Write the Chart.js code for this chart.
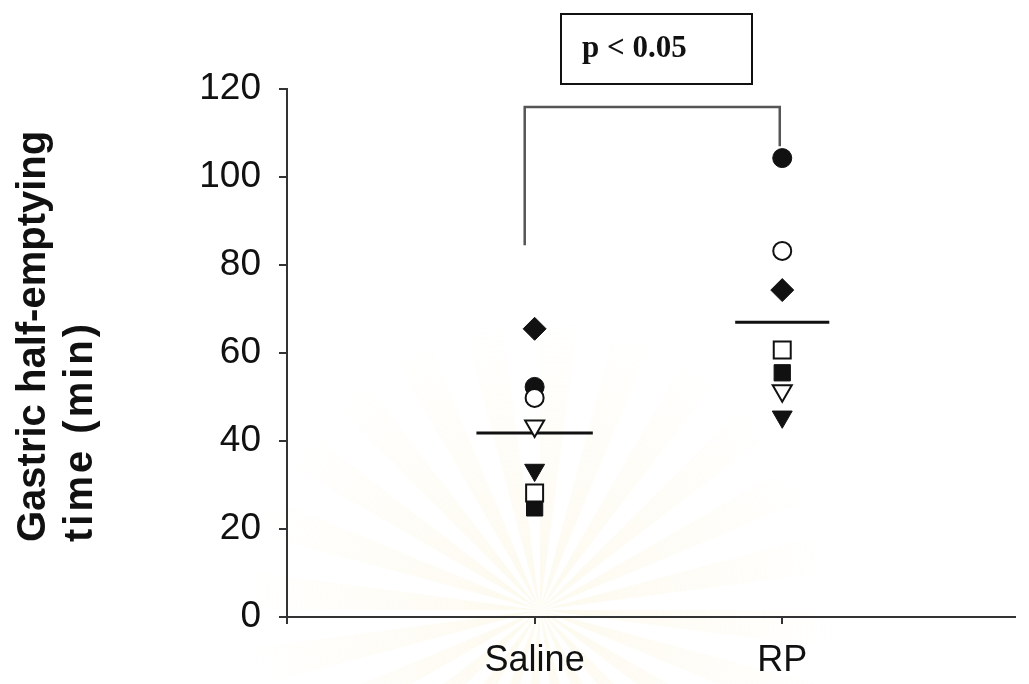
<!DOCTYPE html>
<html>
<head>
<meta charset="utf-8">
<script src="https://cdn.jsdelivr.net/npm/chart.js@4.4.1/dist/chart.umd.min.js"></script>
<style>
  html, body { margin: 0; padding: 0; background: #fff; }
  #wrap { position: relative; width: 1029px; height: 684px; }
  #pbox {
    position: absolute; left: 560px; top: 13px; width: 193px; height: 72px;
    box-sizing: border-box; border: 2px solid #111; color: #111;
    font: bold 31px "Liberation Serif", "Times New Roman", serif;
    padding-left: 20px; line-height: 64px; white-space: nowrap;
  }
</style>
</head>
<body>
<div id="wrap">
  <canvas id="chart" width="1029" height="684"></canvas>
  <div id="pbox"></div>
</div>
<script>
/* ================================
   Data
================================ */
const groups = ["Saline", "RP"];
const groupX = [1, 2];
const xTicks = [0, 1, 2];
const yTicks = [0, 20, 40, 60, 80, 100, 120];
const yTitleLines = ["Gastric half-emptying", "time (min)"];
const pLabel = "p < 0.05";

// one value per group: [Saline, RP]
const filledCircle   = [52.3, 104.3];
const openCircle     = [49.8, 83.2];
const filledDiamond  = [65.5, 74.3];
const openSquare     = [28.2, 60.7];
const filledSquare   = [24.8, 55.5];
const openTriangle   = [43.4, 51.4];
const filledTriangle = [33.4, 45.5];
const groupMeans     = [41.8, 67.0];

// significance bracket ends (y values) : [bottom, top]
const bracketLeftY  = [84.5, 115.9];
const bracketRightY = [107.0, 115.9];

/* ================================
   Style
================================ */
const INK = "#111";
const AXIS = "#333";
const SANS = "'Liberation Sans', Arial, Helvetica, sans-serif";
const meanHalfWidth = [0.235, 0.19];
const bracketX = [0.96, 1.99];

document.getElementById("pbox").textContent = pLabel;

/* ================================
   Dataset helpers
================================ */
function markerSet(values, style, radius, filled, rotation) {
  return {
    type: "scatter",
    data: values.map((v, i) => ({ x: groupX[i], y: v })),
    pointStyle: style,
    pointRadius: radius,
    pointRotation: rotation || 0,
    pointBackgroundColor: filled ? INK : "#fff",
    pointBorderColor: INK,
    pointBorderWidth: filled ? 1 : 2,
    showLine: false,
    order: filled ? 5 : 1
  };
}

function meanLine(i) {
  const m = groupMeans[i];
  return {
    type: "line",
    data: [
      { x: groupX[i] - meanHalfWidth[i], y: m },
      { x: groupX[i] + meanHalfWidth[i], y: m }
    ],
    borderColor: INK,
    borderWidth: 3,
    pointRadius: 0,
    order: 10
  };
}

const bracket = {
  type: "line",
  data: [
    { x: bracketX[0], y: bracketLeftY[0] },
    { x: bracketX[0], y: bracketLeftY[1] },
    { x: bracketX[1], y: bracketRightY[1] },
    { x: bracketX[1], y: bracketRightY[0] }
  ],
  borderColor: "#555",
  borderWidth: 2.5,
  pointRadius: 0,
  tension: 0,
  order: 10
};

/* ================================
   Plugins
================================ */
// faint seal watermark behind the plot
const watermark = {
  id: "watermark",
  beforeDraw(chart) {
    const { ctx } = chart;
    const cx = 540, cy = 610, r = 300, n = 48;
    ctx.save();
    const g = ctx.createRadialGradient(cx, cy, 30, cx, cy, r);
    g.addColorStop(0, "rgba(246,234,185,0.22)");
    g.addColorStop(1, "rgba(246,234,185,0)");
    ctx.fillStyle = g;
    for (let k = 0; k < n; k += 2) {
      const a0 = (k / n) * Math.PI * 2;
      const a1 = ((k + 1) / n) * Math.PI * 2;
      ctx.beginPath();
      ctx.moveTo(cx, cy);
      ctx.arc(cx, cy, r, a0, a1);
      ctx.closePath();
      ctx.fill();
    }
    ctx.restore();
  }
};

// two-line y title, left aligned (reads bottom to top)
const axisTitle = {
  id: "axisTitle",
  afterDraw(chart) {
    const { ctx } = chart;
    ctx.save();
    ctx.fillStyle = INK;
    ctx.font = "bold 40px " + SANS;
    ctx.textAlign = "left";
    ctx.textBaseline = "alphabetic";
    yTitleLines.forEach((line, i) => {
      ctx.save();
      ctx.letterSpacing = i === 0 ? "0px" : "3px";
      ctx.translate(45 + i * 47, 542);
      ctx.rotate(-Math.PI / 2);
      ctx.fillText(line, 0, 0);
      ctx.restore();
    });
    ctx.restore();
  }
};

/* ================================
   Chart
================================ */
new Chart(document.getElementById("chart"), {
  type: "scatter",
  data: {
    datasets: [
      markerSet(openCircle, "circle", 9, false),
      markerSet(openSquare, "rect", 12, false),
      markerSet(openTriangle, "triangle", 11, false, 180),
      markerSet(filledCircle, "circle", 9.5, true),
      markerSet(filledDiamond, "rectRot", 11.5, true),
      markerSet(filledSquare, "rect", 11.5, true),
      markerSet(filledTriangle, "triangle", 11.5, true, 180),
      meanLine(0),
      meanLine(1),
      bracket
    ]
  },
  options: {
    responsive: false,
    animation: false,
    events: [],
    layout: { padding: { top: 89, right: 11, left: 0, bottom: 0 } },
    plugins: {
      legend: { display: false },
      tooltip: { enabled: false }
    },
    scales: {
      x: {
        type: "linear",
        min: 0,
        max: 2.94,
        afterBuildTicks: s => { s.ticks = xTicks.map(v => ({ value: v })); },
        afterFit: s => { s.height = 67; },
        ticks: {
          callback: v => groups[groupX.indexOf(v)] || "",
          font: { family: SANS, size: 36 },
          color: INK,
          padding: 15,
          maxRotation: 0,
          autoSkip: false
        },
        grid: { display: true, drawOnChartArea: false, drawTicks: true, tickLength: 7, color: AXIS, lineWidth: 2 },
        border: { display: true, color: AXIS, width: 2 }
      },
      y: {
        min: 0,
        max: 120,
        afterBuildTicks: s => { s.ticks = yTicks.map(v => ({ value: v })); },
        afterFit: s => { s.width = 287; },
        ticks: {
          font: { family: SANS, size: 37 },
          color: INK,
          padding: 18
        },
        grid: { display: true, drawOnChartArea: false, drawTicks: true, tickLength: 8, color: AXIS, lineWidth: 2 },
        border: { display: true, color: AXIS, width: 2 }
      }
    }
  },
  plugins: [watermark, axisTitle]
});
</script>
</body>
</html>
